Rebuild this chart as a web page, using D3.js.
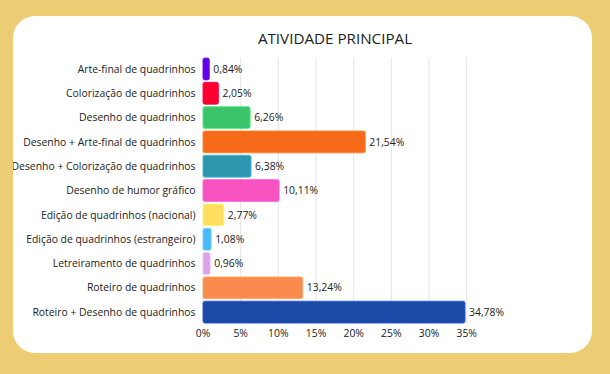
<!DOCTYPE html>
<html><head><meta charset="utf-8">
<script src="https://cdn.jsdelivr.net/npm/d3@7"></script>
<style>html,body{margin:0;padding:0;background:#ECCD73;} svg{display:block;font-family:"Open Sans",sans-serif;}</style>
</head><body>
<svg id="c" width="610" height="374"></svg>
<script>
const categories = ["Arte-final de quadrinhos","Colorização de quadrinhos","Desenho de quadrinhos","Desenho + Arte-final de quadrinhos","Desenho + Colorização de quadrinhos","Desenho de humor gráfico","Edição de quadrinhos (nacional)","Edição de quadrinhos (estrangeiro)","Letreiramento de quadrinhos","Roteiro de quadrinhos","Roteiro + Desenho de quadrinhos"];
const values = [0.84,2.05,6.26,21.54,6.38,10.11,2.77,1.08,0.96,13.24,34.78];
const colors = ["#6200EA","#FF0030","#3CC46A","#F76A1A","#2E97B0","#F752C0","#FFDD5E","#4CB7FF","#DCA2EA","#F98B4E","#1B49A8"];
const ticks = [0,5,10,15,20,25,30,35];
const title = "ATIVIDADE PRINCIPAL";

const svg = d3.select("#c");
svg.append("rect").attr("width",610).attr("height",374).attr("fill","#ECCD73");
svg.append("rect").attr("x",13).attr("y",16).attr("width",579).attr("height",337).attr("rx",22).attr("fill","#fff");
svg.append("clipPath").attr("id","cl").append("rect").attr("x",13).attr("y",16).attr("width",579).attr("height",337).attr("rx",22);
const g = svg.append("g").attr("clip-path","url(#cl)");

g.append("text").attr("x",335).attr("y",44).attr("text-anchor","middle").attr("font-size",15.2).attr("fill","#222").text(title);

const x = d3.scaleLinear().domain([0,35]).range([203,466.7]);
const y = d3.scaleBand().domain(categories).range([56.8,324.3]).paddingInner(0.1).paddingOuter(0.05);

g.append("g").selectAll("line").data(ticks).join("line")
  .attr("x1",d=>x(d)).attr("x2",d=>x(d)).attr("y1",58).attr("y2",324)
  .attr("stroke","#e5e5e5").attr("stroke-width",1);

g.append("g").selectAll("rect").data(values).join("rect")
  .attr("x",x(0)).attr("y",(d,i)=>y(categories[i]))
  .attr("width",d=>x(d)-x(0)).attr("height",y.bandwidth())
  .attr("rx",2).attr("fill",(d,i)=>colors[i])
  .attr("stroke",(d,i)=>d3.color(colors[i]).brighter(0.6)).attr("stroke-width",0.8);

g.append("g").selectAll("text").data(values).join("text")
  .attr("x",d=>x(d)+4).attr("y",(d,i)=>y(categories[i])+y.bandwidth()/2)
  .attr("dy","0.35em").attr("font-size",10.4).attr("fill","#222")
  .text(d=>d.toFixed(2).replace(".",",")+"%");

g.append("g").selectAll("text").data(categories).join("text")
  .attr("x",195.5).attr("y",d=>y(d)+y.bandwidth()/2).attr("dy","0.35em")
  .attr("text-anchor","end").attr("font-size",10.4).attr("fill","#222").text(d=>d);

g.append("g").selectAll("text").data(ticks).join("text")
  .attr("x",d=>x(d)).attr("y",333).attr("dy","0.35em").attr("text-anchor","middle")
  .attr("font-size",10.4).attr("fill","#222").text(d=>d+"%");
</script>
</body></html>
